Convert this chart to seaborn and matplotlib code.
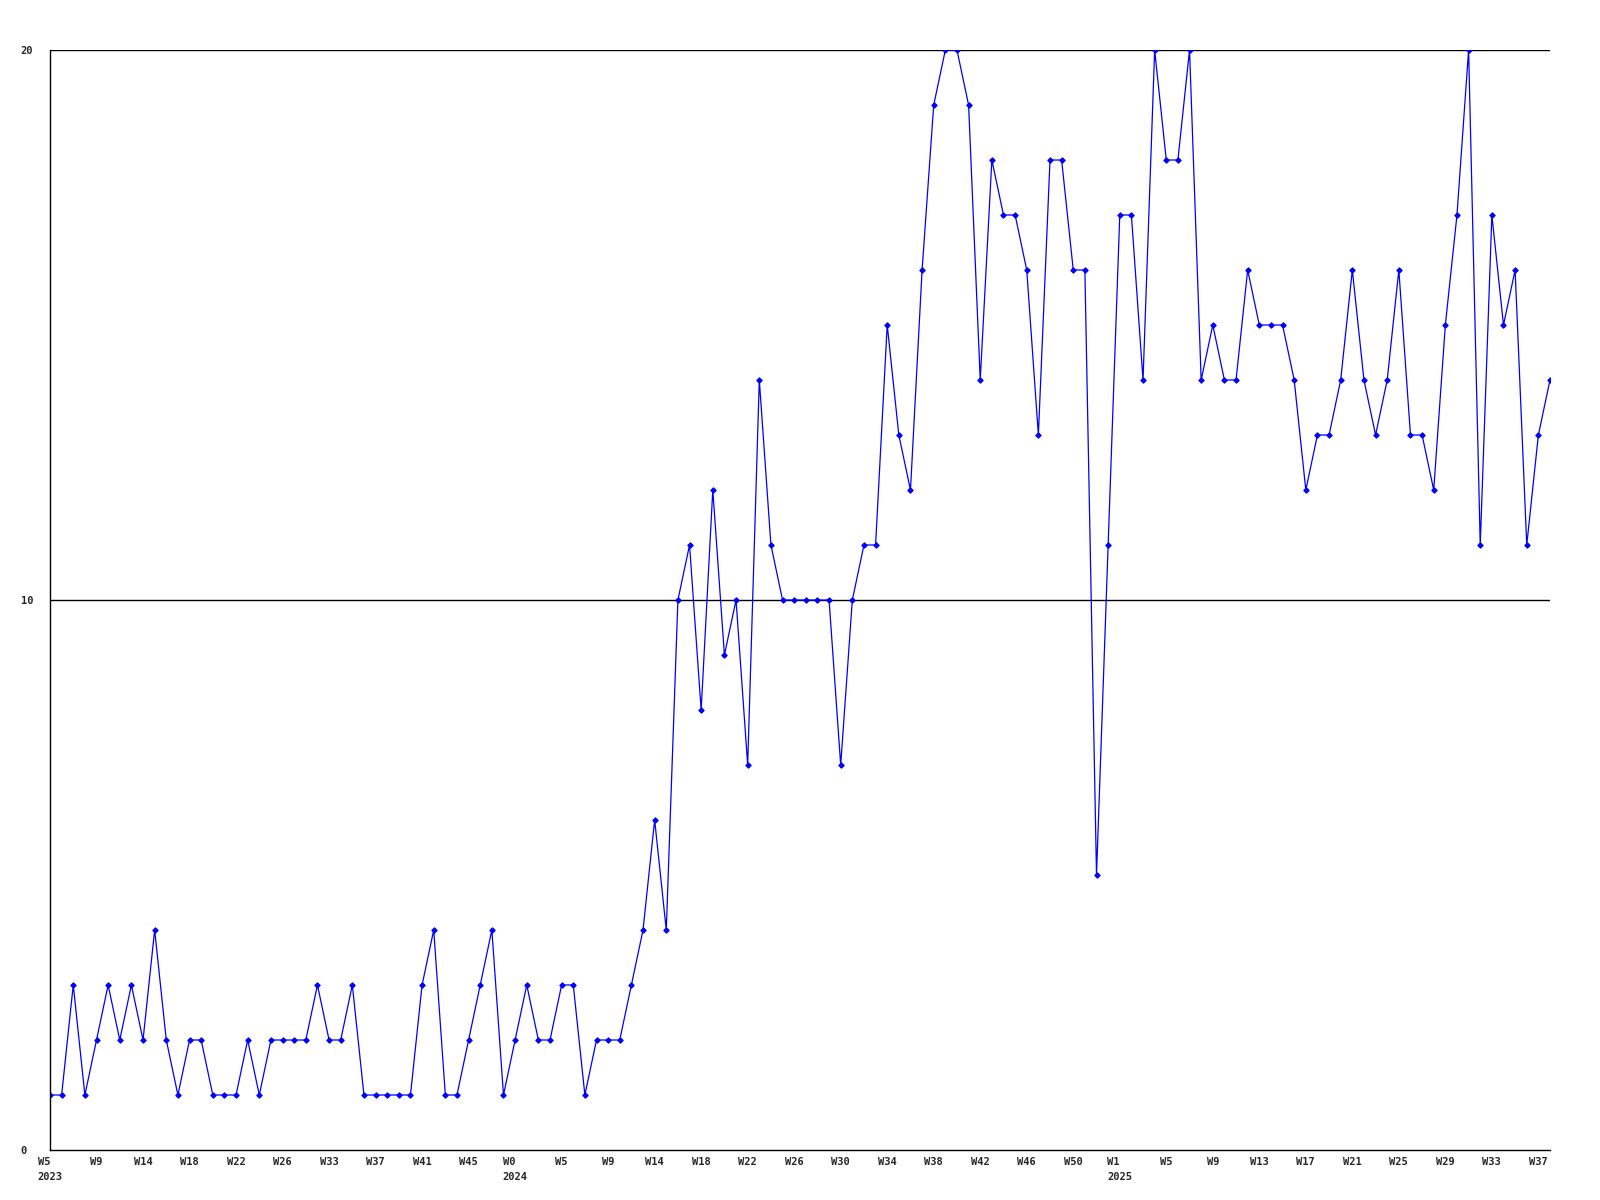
import numpy as np
import pandas as pd
import matplotlib
matplotlib.use("Agg")
import matplotlib.pyplot as plt
import seaborn as sns

# ── Weekly counts (one value per week)
counts = [
    1, 1, 3, 1, 2, 3, 2, 3, 2, 4, 2, 1, 2, 2, 1, 1, 1, 2, 1, 2,
    2, 2, 2, 3, 2, 2, 3, 1, 1, 1, 1, 1, 3, 4, 1, 1, 2, 3, 4, 1,
    2, 3, 2, 2, 3, 3, 1, 2, 2, 2, 3, 4, 6, 4, 10, 11, 8, 12, 9, 10,
    7, 14, 11, 10, 10, 10, 10, 10, 7, 10, 11, 11, 15, 13, 12, 16, 19, 20, 20, 19,
    14, 18, 17, 17, 16, 13, 18, 18, 16, 16, 5, 11, 17, 17, 14, 20, 18, 18, 20, 14,
    15, 14, 14, 16, 15, 15, 15, 14, 12, 13, 13, 14, 16, 14, 13, 14, 16, 13, 13, 12,
    15, 17, 20, 11, 17, 15, 16, 11, 13, 14,
]

# ── x-axis labels (one every 4 weeks), year shown under first label of each year
week_labels = [
    "W5", "W9", "W14", "W18", "W22", "W26", "W33", "W37", "W41", "W45",
    "W0", "W5", "W9", "W14", "W18", "W22", "W26", "W30", "W34", "W38", "W42", "W46", "W50",
    "W1", "W5", "W9", "W13", "W17", "W21", "W25", "W29", "W33", "W37",
]
year_labels = {0: "2023", 10: "2024", 23: "2025"}
y_ticks = [0, 10, 20]

df = pd.DataFrame({"week": np.arange(len(counts)), "count": counts})

sns.set_style("white")
plt.rcParams["font.family"] = ["DejaVu Sans Mono"]

fig = plt.figure(figsize=(16, 12), dpi=100)
ax = fig.add_axes([50 / 1600, 50 / 1200, 1500 / 1600, 1100 / 1200])

sns.lineplot(data=df, x="week", y="count", ax=ax, color="#0000ff",
             linewidth=0.9, marker="D", markersize=2.8,
             markeredgecolor="#0000ff", markerfacecolor="#0000ff")

ax.set_xlim(0, len(counts) - 1)
ax.set_ylim(0, 20)

# horizontal grid lines at 10 and 20
for v in y_ticks[1:]:
    ax.axhline(v, color="black", linewidth=1, zorder=0)

ax.set_yticks(y_ticks)
ax.set_yticklabels([str(v) for v in y_ticks], fontsize=7.5, fontweight="bold")
for lbl in ax.get_yticklabels():
    lbl.set_horizontalalignment("left")
ax.tick_params(axis="y", length=0, pad=21)

tick_pos = np.arange(0, len(week_labels) * 4, 4)
tick_text = [w + ("\n" + year_labels[i] if i in year_labels else "\n")
             for i, w in enumerate(week_labels)]
ax.set_xticks(tick_pos)
ax.set_xticklabels(tick_text, fontsize=7.5, fontweight="bold",
                   multialignment="left", linespacing=1.6)
ax.tick_params(axis="x", length=0, pad=5)
for lbl in ax.get_xticklabels():
    lbl.set_verticalalignment("top")

ax.set_xlabel("")
ax.set_ylabel("")
for side in ["top", "right"]:
    ax.spines[side].set_visible(False)
for side in ["left", "bottom"]:
    ax.spines[side].set_color("black")
    ax.spines[side].set_linewidth(1)

fig.savefig("out.png", dpi=100, facecolor="white")
